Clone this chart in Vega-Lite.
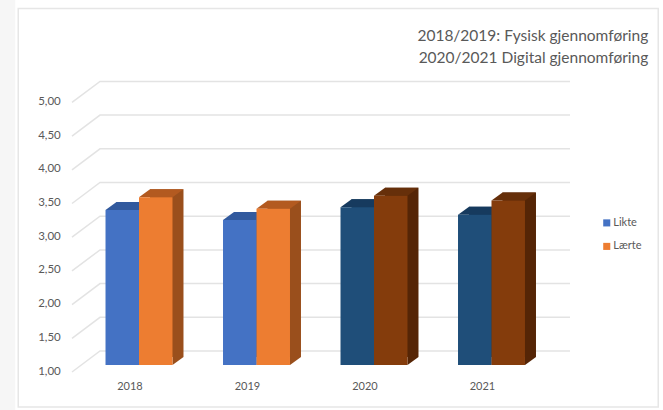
{
"$schema":"https://vega.github.io/schema/vega-lite/v6.json",
"width":470,"height":269.6,
"autosize":"none",
"padding":{"left":80.25,"top":95.4,"right":112.75,"bottom":45},
"background":"#ffffff",
"data":{"values":[
{"year":"2018","series":"Likte","group":"Likte","value":3.30},
{"year":"2018","series":"Lærte","group":"Lærte","value":3.49},
{"year":"2019","series":"Likte","group":"Likte","value":3.15},
{"year":"2019","series":"Lærte","group":"Lærte","value":3.32},
{"year":"2020","series":"Likte","group":"Likte digital","value":3.34},
{"year":"2020","series":"Lærte","group":"Lærte digital","value":3.51},
{"year":"2021","series":"Likte","group":"Likte digital","value":3.23},
{"year":"2021","series":"Lærte","group":"Lærte digital","value":3.44}
]},
"title":{"text":["2018/2019: Fysisk gjennomføring","2020/2021 Digital gjennomføring"],"frame":"group","anchor":"end","align":"right","baseline":"alphabetic","offset":0,"dx":98,"dy":79,"font":"Lato","fontSize":15.5,"fontWeight":"normal","color":"#595959","lineHeight":22},
"config":{"view":{"stroke":null},"font":"Lato"},
"resolve":{"scale":{"color":"independent","x":"independent"}},
"layer":[
{"data":{"values":[{"x":0}]},"mark":{"type":"rect","fill":"#f6f6f6"},
 "encoding":{"x":{"value":-81},"x2":{"value":-65},"y":{"value":-96},"y2":{"value":315}}},
{"data":{"values":[{"x":0}]},"mark":{"type":"rect","fill":"#ffffff","stroke":"#e6e6e6","strokeWidth":1.5},
 "encoding":{"x":{"value":-62},"x2":{"value":578},"y":{"value":-87},"y2":{"value":311.5}}},
{"data":{"values":[{"tick":1},{"tick":1.5},{"tick":2},{"tick":2.5},{"tick":3},{"tick":3.5},{"tick":4},{"tick":4.5},{"tick":5}]},
 "mark":{"type":"point","shape":"M-8.25 7L19.75 -14L489.75 -14","size":4,"filled":false,"stroke":"#e3e3e3","strokeWidth":1.5,"opacity":1},
 "encoding":{"x":{"value":0},"y":{"field":"tick","type":"quantitative","scale":{"domain":[1,5],"zero":false,"nice":false},
   "axis":{"zindex":1,"values":[1,1.5,2,2.5,3,3.5,4,4.5,5],"tickCount":9,"labelOverlap":false,"labelSeparation":0,"labelBound":false,"grid":false,"ticks":false,"domain":false,"title":null,"labelExpr":"replace(format(datum.value,'.2f'),'.',',')","labelFont":"Lato","labelFontSize":11.5,"labelColor":"#595959","labelPadding":20,"labelOffset":6}}}},
{"mark":{"type":"bar","yOffset":-8,"y2Offset":-8},
 "encoding":{"x":{"field":"year","type":"nominal","axis":null,"scale":{"range":[11,481],"paddingInner":0.43,"paddingOuter":0.215}},"xOffset":{"field":"series","sort":["Likte","Lærte"],"scale":{"paddingInner":0,"paddingOuter":0}},"y":{"field":"value","type":"quantitative"},"y2":{"datum":1},
  "color":{"field":"group","legend":null,"scale":{"domain":["Likte","Lærte","Likte digital","Lærte digital"],"range":["#2f5597","#9a4f1c","#133a5c","#552506"]}}}},
{"mark":{"type":"point","shape":"M16.75 0L27.75 -8L16.75 -8Z","size":4,"filled":true,"opacity":1},
 "encoding":{"x":{"field":"year","type":"nominal","axis":null,"scale":{"paddingInner":0.43,"paddingOuter":0.215}},"xOffset":{"field":"series","sort":["Likte","Lærte"],"scale":{"paddingInner":0,"paddingOuter":0}},"y":{"datum":1},
  "color":{"field":"group","legend":null,"scale":{"domain":["Likte","Lærte","Likte digital","Lærte digital"],"range":["#2f5597","#9a4f1c","#133a5c","#552506"]}}}},
{"mark":{"type":"point","shape":"M-16.75 0L-5.75 -8L27.75 -8L16.75 0Z","size":4,"filled":true,"opacity":1},
 "encoding":{"x":{"field":"year","type":"nominal","axis":null,"scale":{"paddingInner":0.43,"paddingOuter":0.215}},"xOffset":{"field":"series","sort":["Likte","Lærte"],"scale":{"paddingInner":0,"paddingOuter":0}},"y":{"field":"value","type":"quantitative"},
  "color":{"field":"group","legend":null,"scale":{"domain":["Likte","Lærte","Likte digital","Lærte digital"],"range":["#325a9e","#b35a20","#163a5e","#662f0a"]}}}},
{"mark":{"type":"bar"},
 "encoding":{"x":{"field":"year","type":"nominal","scale":{"paddingInner":0.43,"paddingOuter":0.215},
   "axis":{"zindex":1,"title":null,"labelAngle":0,"ticks":false,"domain":false,"labelFont":"Lato","labelFontSize":11,"labelColor":"#595959","labelPadding":15,"labelOffset":-9}},
  "xOffset":{"field":"series","sort":["Likte","Lærte"],"scale":{"paddingInner":0,"paddingOuter":0}},
  "y":{"field":"value","type":"quantitative"},"y2":{"datum":1},
  "color":{"field":"group","scale":{"domain":["Likte","Lærte","Likte digital","Lærte digital"],"range":["#4472c4","#ed7d31","#1f4e79","#843c0c"]},
   "legend":{"values":["Likte","Lærte"],"title":null,"orient":"none","legendX":521,"legendY":122,"symbolType":"square","symbolSize":50,"symbolStrokeWidth":0,"labelFont":"Lato","labelFontSize":11,"labelColor":"#595959","rowPadding":11.5,"labelOffset":1}}}}
]
}
